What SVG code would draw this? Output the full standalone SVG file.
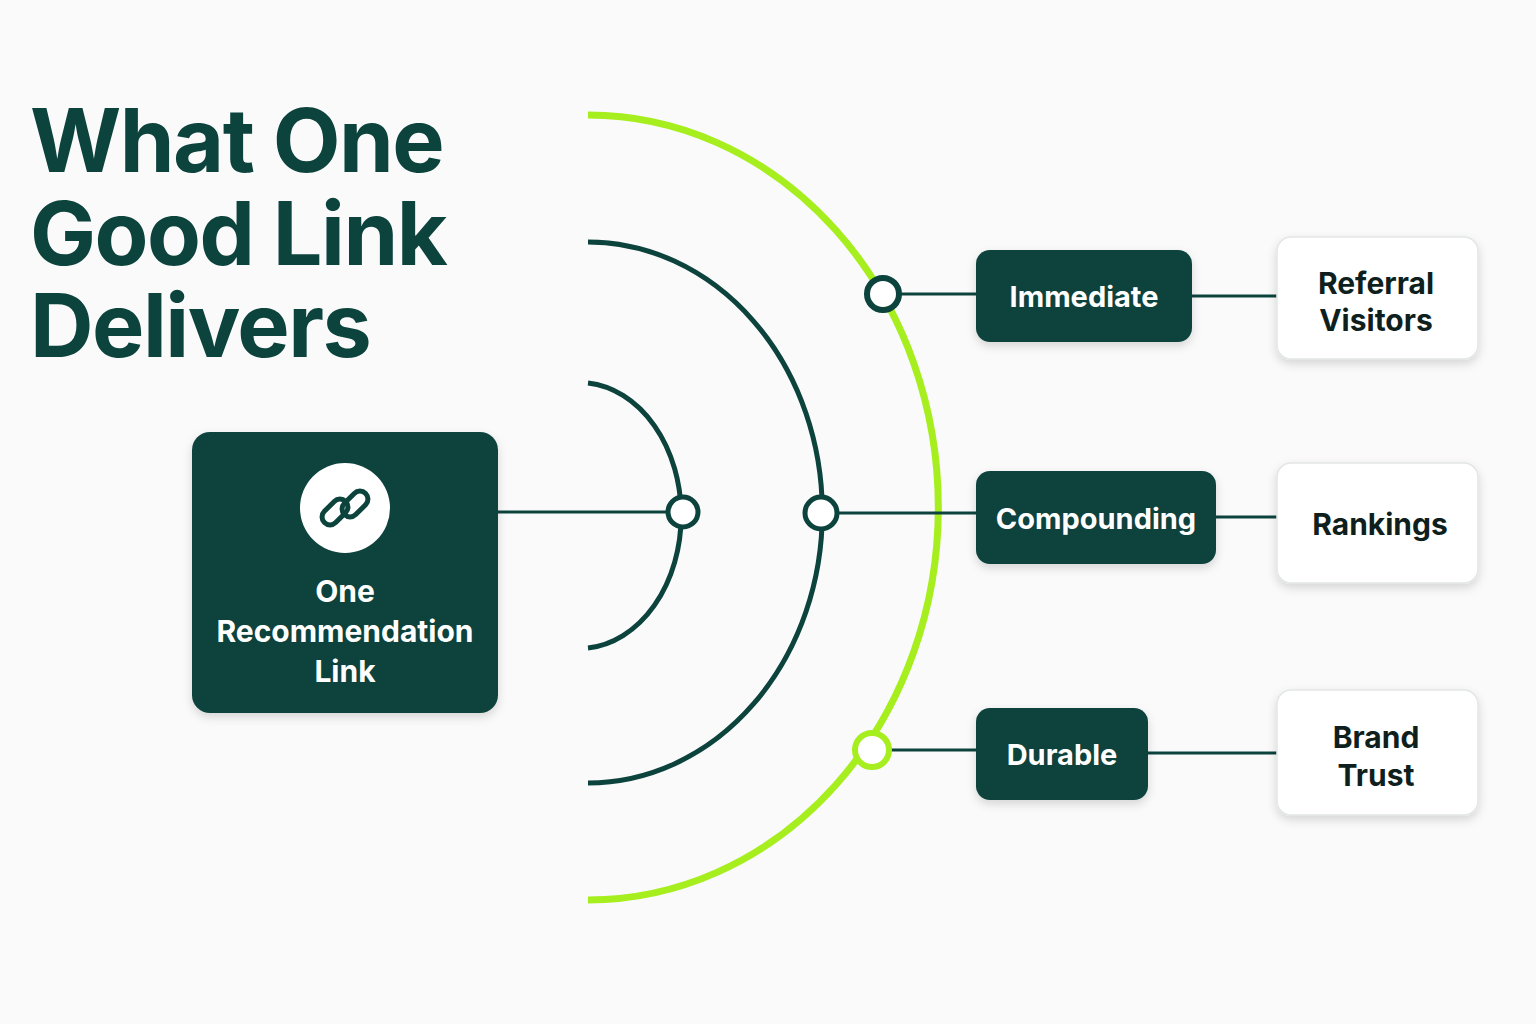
<svg xmlns="http://www.w3.org/2000/svg" width="1536" height="1024" viewBox="0 0 1536 1024">
<defs>
<style>
.t{font-family:Inter,"Liberation Sans",sans-serif;font-weight:700}
.dk{fill:#0c433d}
.wb{fill:#fff;stroke:#e2e6e4;stroke-width:1.5}
.ln{stroke:#0c433d;stroke-width:3;fill:none}
.arc{stroke:#0c433d;stroke-width:5;fill:none}
.wt{fill:#fff}
.bt{fill:#0f1f1d}
</style>
<filter id="sh" x="-20%" y="-20%" width="140%" height="150%"><feDropShadow dx="0" dy="4" stdDeviation="5" flood-color="#000" flood-opacity="0.15"/></filter>
</defs>
<rect width="1536" height="1024" fill="#fafafa"/>
<text class="t" fill="#0c433d" font-size="88" letter-spacing="-1.5"><tspan x="30" y="172">What One</tspan><tspan x="30" y="265">Good Link</tspan><tspan x="30" y="357">Delivers</tspan></text>
<g id="connectors">
<path d="M588,383 A102,133 0 0 1 588,648" class="arc"/>
<path d="M588,242 A234,270 0 0 1 588,783" class="arc"/>
<path d="M588,115 A350,392 0 0 1 588,900" fill="none" stroke="#a6ee1e" stroke-width="7"/>
<line x1="498" y1="512" x2="668" y2="512" class="ln"/>
<line x1="836" y1="513" x2="976" y2="513" class="ln"/>
<line x1="898" y1="294" x2="976" y2="294" class="ln"/>
<line x1="887" y1="750" x2="976" y2="750" class="ln"/>
<line x1="1192" y1="296" x2="1277" y2="296" class="ln"/>
<line x1="1216" y1="517" x2="1277" y2="517" class="ln"/>
<line x1="1148" y1="753" x2="1277" y2="753" class="ln"/>
<circle cx="683" cy="512" r="15" fill="#fff" stroke="#0c433d" stroke-width="5"/>
<circle cx="821" cy="513" r="16" fill="#fff" stroke="#0c433d" stroke-width="5"/>
<circle cx="883" cy="294" r="16" fill="#fff" stroke="#0c433d" stroke-width="6"/>
<circle cx="872" cy="750" r="17" fill="#fff" stroke="#a6ee1e" stroke-width="6"/>
</g>
<g id="source">
<rect x="192" y="432" width="306" height="281" rx="18" class="dk" filter="url(#sh)"/>
<circle cx="345" cy="508" r="45" fill="#fff"/>
<g fill="none" stroke="#0c433d" stroke-width="5" stroke-linecap="round">
<rect x="327" y="497" width="16" height="30" rx="8" transform="rotate(45 335 512)"/>
<rect x="347" y="489" width="16" height="30" rx="8" transform="rotate(45 355 504)"/>
</g>
<text class="t wt" font-size="30" text-anchor="middle"><tspan x="345" y="602">One</tspan><tspan x="345" y="642">Recommendation</tspan><tspan x="345" y="682">Link</tspan></text>
</g>
<g id="immediate"><rect x="976" y="250" width="216" height="92" rx="14" class="dk" filter="url(#sh)"/><text class="t wt" font-size="29" x="1084" y="307" text-anchor="middle">Immediate</text></g>
<g id="compounding"><rect x="976" y="471" width="240" height="93" rx="14" class="dk" filter="url(#sh)"/><text class="t wt" font-size="29" x="1096" y="529" text-anchor="middle">Compounding</text></g>
<g id="durable"><rect x="976" y="708" width="172" height="92" rx="14" class="dk" filter="url(#sh)"/><text class="t wt" font-size="29" x="1062" y="765" text-anchor="middle">Durable</text></g>
<g id="referral"><rect x="1277" y="237" width="201" height="122" rx="14" class="wb" filter="url(#sh)"/><text class="t bt" font-size="30" text-anchor="middle"><tspan x="1376" y="294">Referral</tspan><tspan x="1376" y="331">Visitors</tspan></text></g>
<g id="rankings"><rect x="1277" y="463" width="201" height="120" rx="14" class="wb" filter="url(#sh)"/><text class="t bt" font-size="30" x="1380" y="535" text-anchor="middle">Rankings</text></g>
<g id="brand"><rect x="1277" y="690" width="201" height="125" rx="14" class="wb" filter="url(#sh)"/><text class="t bt" font-size="30" text-anchor="middle"><tspan x="1376" y="748">Brand</tspan><tspan x="1376" y="786">Trust</tspan></text></g>
</svg>
